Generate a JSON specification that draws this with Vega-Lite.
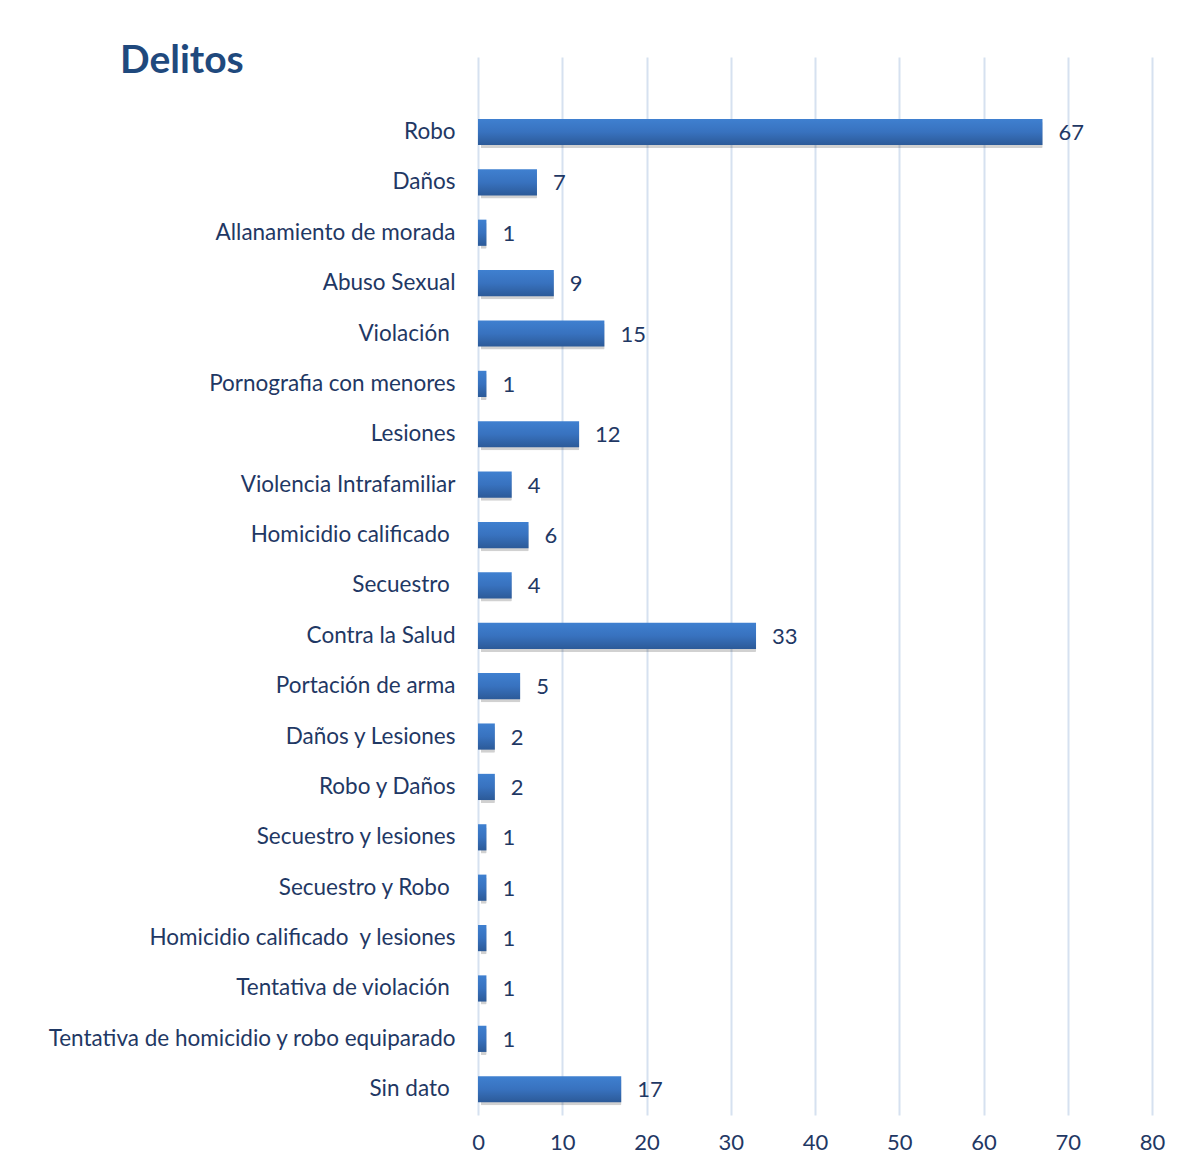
{
  "$schema": "https://vega.github.io/schema/vega-lite/v6.json",
  "width": 674,
  "height": 1058,
  "autosize": "none",
  "padding": {"left": 478, "top": 57, "right": 28, "bottom": 48},
  "background": "white",
  "title": {
    "text": "Delitos",
    "anchor": "start",
    "frame": "group",
    "dx": -358,
    "dy": 55,
    "offset": 0,
    "baseline": "alphabetic",
    "font": "Lato",
    "fontSize": 39,
    "fontWeight": "bold",
    "color": "#1F497D"
  },
  "config": {
    "view": {"stroke": null},
    "font": "Lato"
  },
  "data": {
    "values": [
      {"delito": "Robo", "n": 67},
      {"delito": "Daños", "n": 7},
      {"delito": "Allanamiento de morada", "n": 1},
      {"delito": "Abuso Sexual", "n": 9},
      {"delito": "Violación\u00a0\u200b", "n": 15},
      {"delito": "Pornografia con menores", "n": 1},
      {"delito": "Lesiones", "n": 12},
      {"delito": "Violencia Intrafamiliar", "n": 4},
      {"delito": "Homicidio calificado\u00a0\u200b", "n": 6},
      {"delito": "Secuestro\u00a0\u200b", "n": 4},
      {"delito": "Contra la Salud", "n": 33},
      {"delito": "Portación de arma", "n": 5},
      {"delito": "Daños y Lesiones", "n": 2},
      {"delito": "Robo y Daños", "n": 2},
      {"delito": "Secuestro y lesiones", "n": 1},
      {"delito": "Secuestro y Robo\u00a0\u200b", "n": 1},
      {"delito": "Homicidio calificado \u00a0y lesiones", "n": 1},
      {"delito": "Tentativa de violación\u00a0\u200b", "n": 1},
      {"delito": "Tentativa de homicidio y robo equiparado", "n": 1},
      {"delito": "Sin dato\u00a0\u200b", "n": 17}
    ]
  },
  "encoding": {
    "y": {
      "field": "delito",
      "type": "nominal",
      "sort": null,
      "scale": {"paddingInner": 0.48, "paddingOuter": 0.74, "align": 0.83},
      "axis": {
        "title": null,
        "domain": false,
        "ticks": false,
        "grid": false,
        "labelPadding": 23,
        "labelFontSize": 22.5,
        "labelColor": "#1F3864",
        "labelFont": "Lato",
        "labelLimit": 500
      }
    },
    "x": {
      "field": "n",
      "type": "quantitative",
      "scale": {"domain": [0, 80], "nice": false},
      "axis": {
        "title": null,
        "values": [0, 10, 20, 30, 40, 50, 60, 70, 80],
        "domain": false,
        "ticks": false,
        "grid": true,
        "gridColor": "#D6E1F0",
        "gridWidth": 2,
        "labelFlush": false,
        "labelPadding": 17,
        "labelFontSize": 22,
        "labelColor": "#1F3864",
        "labelFont": "Lato"
      }
    }
  },
  "layer": [
    {
      "mark": {"type": "bar", "color": "#000000", "opacity": 0.18, "xOffset": 3, "yOffset": 3, "cornerRadius": 1},
      "encoding": {}
    },
    {
      "mark": {
        "type": "bar",
        "color": {
          "gradient": "linear",
          "x1": 0, "y1": 0, "x2": 0, "y2": 1,
          "stops": [
            {"offset": 0, "color": "#3F80D0"},
            {"offset": 0.5, "color": "#3872BF"},
            {"offset": 1, "color": "#2C5A98"}
          ]
        }
      },
      "encoding": {}
    },
    {
      "mark": {"type": "text", "align": "left", "baseline": "middle", "dx": 16, "dy": 1, "fontSize": 22, "color": "#1F3864", "font": "Lato"},
      "encoding": {"text": {"field": "n", "type": "quantitative"}}
    }
  ]
}
